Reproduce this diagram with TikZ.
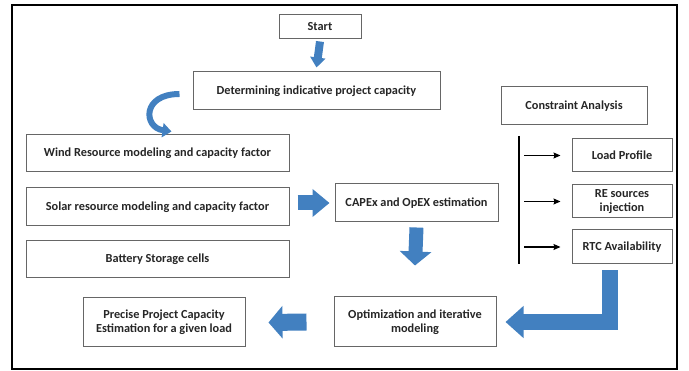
\documentclass[tikz,border=0pt]{standalone}
\usepackage{fontspec}
\setmainfont{Carlito}
\usetikzlibrary{arrows,arrows.meta,calc}
\definecolor{arrowblue}{RGB}{66,128,192}
\tikzset{ %inner sep = 0.5mm,
  {box/.style}={rectangle, draw=black!60, line width=1pt, fill=white,
                inner sep=1pt, text centered, align=center,
                font=\fontsize{12.3}{14}\selectfont\bfseries, text=black!85},
  {frame/.style}={draw, line width=1.4pt},
  {block arrow/.style}={draw=arrowblue, line cap=butt, line join=miter},
  {thin arrow/.style}={draw, line width=1.2pt, -{Stealth[length=7pt,width=6pt,inset=1pt]}},
  >=latex,
 }

\begin{document}
\begin{tikzpicture}[x=1pt,y=-1pt]
    \useasboundingbox (0,0) rectangle (689,371);
    \draw[frame] (12,5) rectangle (677,369);
    % flow in the middle
    \node[box,minimum width=82,minimum height=24] (start) at (320,27) {Start};
    \node[box,minimum width=247,minimum height=38] (capacity) at (316.5,91)
      {Determining indicative project capacity};
    % resources
    \node[box,minimum width=263,minimum height=37] (wind) at (157.5,153.5)
      {Wind Resource modeling and capacity factor};
    \node[box,minimum width=263,minimum height=38] (solar) at (157.5,207)
      {Solar resource modeling and capacity factor};
    \node[box,minimum width=263,minimum height=37] (battery) at (157.5,259.5)
      {Battery Storage cells};
    \node[box,minimum width=163,minimum height=38] (capex) at (416.5,203)
      {CAPEx and OpEX estimation};
    % constraints
    \node[box,minimum width=146,minimum height=38] (constraint) at (574,106)
      {Constraint Analysis};
    \node[box,minimum width=100,minimum height=33] (load) at (622,155.5)
      {Load Profile};
    \node[box,minimum width=100,minimum height=33] (resrc) at (622,201.5)
      {RE sources\\injection};
    \node[box,minimum width=100,minimum height=34] (rtc) at (622,247)
      {RTC Availability};
    % results
    \node[box,minimum width=162,minimum height=50] (opt) at (415,322)
      {Optimization and iterative\\modeling};
    \node[box,minimum width=162,minimum height=49] (precise) at (164,322.5)
      {Precise Project Capacity\\Estimation for a given load};

    \coordinate (bartop) at (519,136);
    \coordinate (barbot) at (519,264);
    \draw[line width=2pt] (bartop) -- (barbot);
    \foreach \c in {load,resrc,rtc}
      \draw[thin arrow] ([xshift=5]bartop |- \c.west) -- ([xshift=-11]\c.west);

    \draw[block arrow,line width=8pt,-{Triangle[length=10pt,width=15pt]}]
      ([yshift=-2]start.south) -- ([yshift=4]capacity.north);
    \coordinate (cstart) at ($(capacity.west)+(-13,3)$);
    \coordinate (cend) at ($(wind.north)+(14,-3)$);
    \draw[block arrow,line width=6pt,-{Triangle[length=9pt,width=14pt]}]
      (cstart) .. controls +(-38,0) and +(-28,-4) .. (cend);
    \draw[block arrow,line width=15pt,-{Triangle[length=17pt,width=27pt]}]
      ([xshift=8,yshift=4]solar.east) -- ([xshift=-5]capex.west |- 0,203);
    \draw[block arrow,line width=14pt,-{Triangle[length=14pt,width=31pt]}]
      ([yshift=-5]capex.south) -- ([yshift=31]opt.north);
    \draw[block arrow,line width=16pt,-{Triangle[length=18pt,width=31pt]}]
      ([xshift=-12,yshift=-6]rtc.south) |- ([xshift=9]opt.east);
    \draw[block arrow,line width=17pt,-{Triangle[length=14pt,width=32pt]}]
      ([xshift=-27]opt.west) -- ([xshift=23]precise.east);
\end{tikzpicture}
\end{document}
